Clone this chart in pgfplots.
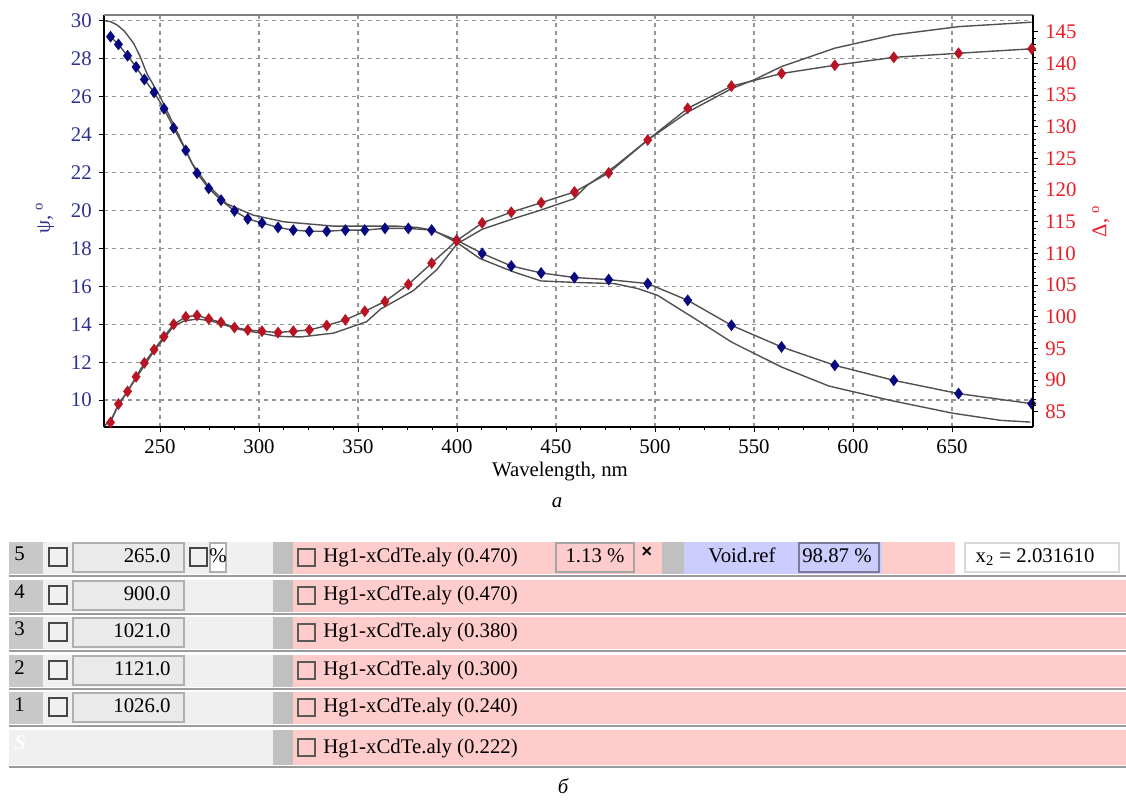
\documentclass[border=0pt]{standalone}
\usepackage{fontspec}
\setmainfont{Liberation Serif}
\usepackage{pgfplots}
\usepackage{pgfplotstable}
\pgfplotsset{compat=1.18}
\definecolor{psiblue}{RGB}{8,8,128}
\definecolor{psilab}{RGB}{46,49,146}
\definecolor{delred}{RGB}{185,20,35}
\definecolor{dellab}{RGB}{237,28,36}
\definecolor{fitgray}{RGB}{80,80,80}
\definecolor{gridgray}{RGB}{150,150,150}
\definecolor{numgray}{RGB}{200,200,200}
\definecolor{rowgray}{RGB}{240,240,240}
\definecolor{boxgray}{RGB}{234,234,234}
\definecolor{boxline}{RGB}{175,175,175}
\definecolor{stripgray}{RGB}{192,192,192}
\definecolor{pinkrow}{RGB}{255,204,204}
\definecolor{lav}{RGB}{204,204,255}
\definecolor{sepgray}{RGB}{155,155,155}

\pgfplotstableread{
x y
225.0 29.16
229.0 28.75
233.6 28.15
237.9 27.56
242.1 26.90
247.0 26.22
252.0 25.36
256.9 24.34
263.0 23.16
268.7 21.96
274.6 21.16
280.8 20.54
287.6 19.97
294.3 19.55
301.5 19.34
309.6 19.10
317.3 18.96
325.4 18.90
334.2 18.90
343.6 18.96
353.4 18.96
363.6 19.05
375.4 19.05
387.2 18.96
399.8 18.43
412.7 17.73
427.4 17.07
442.5 16.70
459.3 16.46
476.6 16.35
496.3 16.14
516.5 15.26
538.6 13.94
563.9 12.80
590.8 11.83
620.6 11.04
653.3 10.34
690.2 9.81
}\psiexp

\pgfplotstableread{
x y
222.0 30.00
225.0 29.95
228.4 29.77
232.0 29.45
236.7 28.80
240.0 28.10
243.4 27.20
250.0 26.00
258.4 24.20
266.0 22.50
273.5 21.40
283.6 20.35
297.0 19.75
312.3 19.40
337.6 19.17
369.5 19.17
380.0 19.10
388.0 18.95
400.0 18.30
411.6 17.46
428.7 16.75
442.4 16.28
460.0 16.20
479.4 16.14
491.2 15.88
501.3 15.52
521.5 14.20
538.6 13.06
563.9 11.74
587.8 10.74
619.0 9.98
650.2 9.31
674.5 8.93
689.6 8.84
}\psimod

\pgfplotstableread{
x y
225.0 83.30
229.0 86.20
233.6 88.20
237.9 90.50
242.1 92.70
247.0 94.80
252.0 96.85
256.9 98.80
263.0 99.97
268.7 100.20
274.6 99.65
280.8 99.10
287.6 98.30
294.3 97.90
301.5 97.70
309.6 97.50
317.3 97.70
325.4 97.90
334.2 98.60
343.6 99.50
353.4 100.85
363.6 102.40
375.4 105.10
387.2 108.45
399.8 112.00
412.7 114.80
427.4 116.50
442.5 118.00
459.3 119.70
476.6 122.70
496.3 127.90
516.5 132.90
538.6 136.40
563.9 138.40
590.8 139.70
620.6 140.95
653.3 141.60
690.2 142.30
}\delexp

\pgfplotstableread{
x y
222.0 82.80
225.0 83.60
229.0 86.00
237.9 90.30
247.0 94.60
256.9 98.50
262.0 99.30
268.8 99.65
276.0 99.30
290.0 98.00
309.3 96.90
321.0 96.80
337.6 97.40
354.3 99.20
361.4 101.20
377.9 104.10
390.0 107.50
400.0 111.50
412.7 113.80
428.7 115.50
442.0 116.80
458.9 118.60
465.6 120.70
480.0 123.80
496.3 127.90
516.5 132.30
538.6 136.00
550.0 137.40
563.9 139.50
590.8 142.40
620.6 144.50
653.3 145.80
690.2 146.50
}\delmod

\pgfplotsset{
  base/.style={
    at={(52pt,186pt)}, anchor=south west,
    scale only axis, width=464.5pt, height=206pt,
    xmin=221.7, xmax=690.9,
    clip=false,
    tick align=outside,
    tick style={black, line width=0.5pt},
    axis line style={line width=1.3pt, black},
    tick label style={font=\fontsize{10.4}{12}\selectfont},
    /pgf/number format/assume math mode=true,
  }
}

\begin{document}
\begin{tikzpicture}
\useasboundingbox (0,0) rectangle (563pt,399.5pt);
\begin{axis}[base,
  ymin=8.58, ymax=30.3,
  axis x line*=bottom, axis y line*=left,
  xtick={250,300,...,650}, ytick={10,12,...,30},
  minor x tick num=3,
  major tick length=2.6pt, minor tick length=1.6pt,
  grid=major,
  major grid style={gridgray, line width=0.6pt, dash pattern=on 2pt off 2pt},
  yticklabel style={text=psilab},
]
\draw[gray, line width=0.7pt] (rel axis cs:0,1) -- (rel axis cs:1,1);
\addplot[fitgray, line width=0.7pt, no marks] table[x=x,y=y]{\psimod};
\addplot[fitgray, line width=0.7pt, mark=diamond*, mark size=2.4pt,
  mark options={solid, fill=psiblue, draw=psiblue}] table[x=x,y=y]{\psiexp};
\end{axis}
\begin{axis}[base,
  ymin=82.58, ymax=147.64,
  axis x line=none, axis y line*=right,
  ytick={85,90,...,145}, minor y tick num=4,
  major tick length=2.6pt, minor tick length=1.4pt,
  yticklabel style={text=dellab},
]
\addplot[fitgray, line width=0.7pt, no marks] table[x=x,y=y]{\delmod};
\addplot[fitgray, line width=0.7pt, mark=diamond*, mark size=2.4pt,
  mark options={solid, fill=delred, draw=delred}] table[x=x,y=y]{\delexp};
\end{axis}

\begin{scope}[shift={(0,399.5pt)}, x=0.5pt, y=-0.5pt, font=\fontsize{10.4}{12}\selectfont]
% axis titles and captions
\node[rotate=90, text=psilab, inner sep=0pt] at (45,218) {ψ, \textsuperscript{o}};
\node[rotate=90, text=dellab, inner sep=0pt] at (1101,221) {Δ, \textsuperscript{o}};
\node[inner sep=0pt] at (560,472) {Wavelength, nm};
\node[inner sep=0pt] at (557,503) {\itshape а};
\node[inner sep=0pt] at (563,786) {\itshape б};

% table rows
\foreach \t/\n/\v/\h in {542/5/265.0/0.470, 580/4/900.0/0.470, 617/3/1021.0/0.380, 655/2/1121.0/0.300, 692/1/1026.0/0.240}{
  \fill[rowgray] (43,\t) rectangle (273,\t+32);
  \fill[numgray] (9,\t) rectangle (43,\t+32);
  \node[anchor=base west, inner sep=0pt] at (14,\t+19) {\n};
  \draw[fill=rowgray, draw=black!72, line width=0.9pt] (49,\t+6) rectangle (67,\t+24);
  \draw[fill=boxgray, draw=boxline, line width=0.6pt] (73,\t+1) rectangle (184,\t+30);
  \node[anchor=base east, inner sep=0pt] at (171,\t+21) {\v};
  \fill[stripgray] (273,\t) rectangle (293,\t+32);
  \fill[pinkrow] (293,\t) rectangle (1126,\t+32);
  \draw[fill=pinkrow, draw=black!65, line width=0.8pt] (298,\t+7) rectangle (315,\t+24);
  \node[anchor=base west, inner sep=0pt] at (323,\t+21) {Hg1-xCdTe.aly (\h)};
  \draw[sepgray, line width=0.8pt] (9,\t+34) -- (1126,\t+34);
}
% row S
\fill[rowgray] (9,730) rectangle (273,765);
\node[anchor=base west, inner sep=0pt, text=white] at (14,750) {\bfseries\itshape S};
\fill[stripgray] (273,730) rectangle (293,765);
\fill[pinkrow] (293,730) rectangle (1126,765);
\draw[fill=pinkrow, draw=black!65, line width=0.8pt] (298,739) rectangle (315,756);
\node[anchor=base west, inner sep=0pt] at (323,753) {Hg1-xCdTe.aly (0.222)};
\draw[sepgray, line width=0.8pt] (9,767) -- (1126,767);

% extras of row 5
\draw[fill=rowgray, draw=black!72, line width=0.9pt] (190,548) rectangle (207,566);
\draw[fill=white, draw=boxline, line width=0.6pt] (210,543) rectangle (226,572);
\node[inner sep=0pt] at (218,556) {\%};
\fill[white] (955,541) rectangle (1126,575);
\draw[fill=pinkrow, draw=black!35, line width=0.6pt] (556,543) rectangle (634,572);
\node[anchor=base, inner sep=0pt] at (595,563) {1.13 \%};
\node[inner sep=0pt] at (647,552) {\fontspec{Liberation Sans}\bfseries\small ×};
\fill[stripgray] (662,542) rectangle (684,574);
\fill[lav] (684,542) rectangle (882,574);
\node[anchor=base, inner sep=0pt] at (742,563) {Void.ref};
\draw[fill=lav, draw=black!40!lav, line width=0.6pt] (799,543) rectangle (879,572);
\node[anchor=base, inner sep=0pt] at (837,563) {98.87 \%};
\draw[fill=white, draw=black!15, line width=0.6pt] (965,543) rectangle (1119,572);
\node[anchor=base, inner sep=0pt] at (1035,563) {x\textsubscript{2} = 2.031610};
\end{scope}
\end{tikzpicture}
\end{document}
